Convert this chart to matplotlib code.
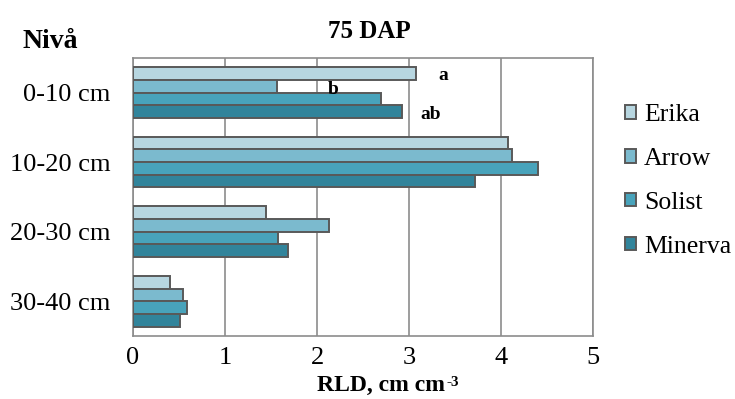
import matplotlib.pyplot as plt
import numpy as np
from matplotlib.patches import Patch

levels = ['0-10 cm', '10-20 cm', '20-30 cm', '30-40 cm']
varieties = ['Erika', 'Arrow', 'Solist', 'Minerva']
erika = [3.07, 4.08, 1.44, 0.40]
arrow = [1.56, 4.12, 2.13, 0.54]
solist = [2.70, 4.40, 1.57, 0.59]
minerva = [2.92, 3.72, 1.68, 0.51]
colors = ['#B7D6E0', '#7BBACE', '#48A3BB', '#31849B']

# significance letters for 0-10 cm
letters = ['a', 'b', 'ab']
letter_x = [3.37, 2.17, 3.23]
letter_y = [-0.25, -0.04, 0.32]

plt.rcParams['font.family'] = ['Liberation Serif', 'DejaVu Serif']

fig = plt.figure(figsize=(7.35, 3.99), dpi=100)
ax = fig.add_axes([0.181, 0.158, 0.626, 0.697])

y = np.arange(len(levels))
h = 0.182
series = [erika, arrow, solist, minerva]
for i, vals in enumerate(series):
    ax.barh(y + (i - 1.5) * h, vals, h, color=colors[i], edgecolor='#595959',
            linewidth=1.4, zorder=3, label=varieties[i])

ax.set_xlim(0, 5)
ax.set_ylim(3.5, -0.5)
ax.set_xticks(range(6))
ax.set_yticks(y)
ax.set_yticklabels(levels, fontsize=19)
ax.tick_params(axis='x', labelsize=19, length=0, pad=8)
ax.tick_params(axis='y', length=0, pad=16)
ax.grid(axis='x', color='#8C8C8C', linewidth=1.2, zorder=0)
for s in ax.spines.values():
    s.set_color('#8C8C8C')
    s.set_linewidth(1.2)

for t, lx, ly in zip(letters, letter_x, letter_y):
    ax.text(lx, ly, t, fontsize=14, fontweight='bold', ha='center', va='center', zorder=4)

# x label with a small superscript attached to its right edge
ax.set_xlabel('RLD, cm cm', fontsize=17, fontweight='bold')
ax.xaxis.set_label_coords(0.54, -0.14)
ax.annotate('-3', xy=(1.0, 1.0), xycoords=ax.xaxis.label, xytext=(0.5, -1),
            textcoords='offset points', fontsize=11, fontweight='bold',
            ha='left', va='top')

fig.text(0.503, 0.92, '75 DAP', fontsize=18, fontweight='bold', ha='center', va='center')
fig.text(0.03, 0.895, 'Nivå', fontsize=20, fontweight='bold', ha='left', va='center')

legend_elements = [Patch(facecolor=colors[i], edgecolor='#595959', linewidth=1.4,
                         label=varieties[i]) for i in range(4)]
leg = fig.legend(handles=legend_elements, loc='upper left', bbox_to_anchor=(0.836, 0.765),
                 frameon=False, fontsize=18.5, labelspacing=0.85, handlelength=0.45,
                 handleheight=0.45, handletextpad=0.3, borderaxespad=0)

plt.savefig('out.png', dpi=100)
